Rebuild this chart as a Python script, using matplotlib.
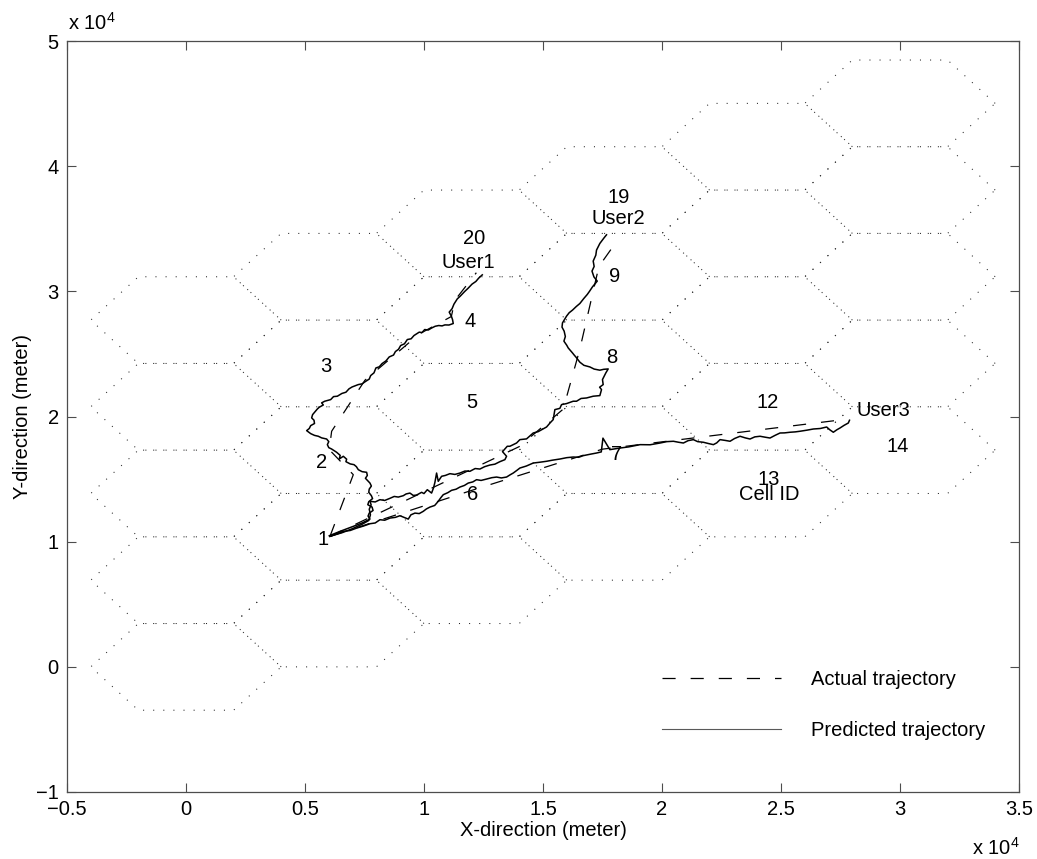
import numpy as np
import matplotlib
matplotlib.use('Agg')
from matplotlib import pyplot as plt
from matplotlib import ticker
from matplotlib.lines import Line2D

plt.rcParams['font.family'] = ['Liberation Sans', 'DejaVu Sans']
plt.rcParams['mathtext.fontset'] = 'custom'
plt.rcParams['mathtext.rm'] = 'Liberation Sans'
FS = 14.5
U = 1e4  # axis unit (x 10^4 meter)

# hexagonal cell layout
cell_radius = 4000.0
n_cols = 6
n_rows = 5

# cell id labels (x 10^4 m)
cell_ids = ['1', '2', '3', '4', '5', '6', '7', '8', '9', '12', '13', '14', '19', '20']
cell_lx = [0.576, 0.571, 0.588, 1.193, 1.200, 1.206, 1.810, 1.790, 1.800, 2.445, 2.450, 2.990, 1.820, 1.210]
cell_ly = [1.020, 1.630, 2.400, 2.760, 2.110, 1.380, 1.700, 2.470, 3.120, 2.110, 1.500, 1.760, 3.750, 3.420]

notes = ['User1', 'User2', 'User3', 'Cell ID']
note_x = [1.185, 1.815, 2.930, 2.450]
note_y = [3.230, 3.580, 2.050, 1.380]

# actual trajectories (x 10^4 m)
act1_x = [0.605, 0.703, 0.602, 0.612, 0.752, 0.980, 1.115, 1.130, 1.220]
act1_y = [1.043, 1.536, 1.736, 1.883, 2.291, 2.660, 2.800, 2.930, 3.150]
act2_x = [0.605, 1.400, 1.585, 1.655, 1.735, 1.815]
act2_y = [1.043, 1.760, 2.060, 2.540, 3.200, 3.415]
act3_x = [0.605, 1.200, 1.750, 2.783]
act3_y = [1.043, 1.410, 1.740, 1.981]

# predicted trajectories (x 10^4 m)
pred1_x = [0.602, 0.650, 0.703, 0.740, 0.773, 0.765, 0.770, 0.786, 0.782, 0.764, 0.768, 0.784, 0.779, 0.768,
           0.770, 0.779, 0.773, 0.754, 0.762, 0.759, 0.740, 0.724, 0.716, 0.706, 0.690, 0.672, 0.675, 0.661,
           0.644, 0.648, 0.633, 0.612, 0.600, 0.594, 0.600, 0.591, 0.570, 0.556, 0.540, 0.524, 0.507, 0.518,
           0.524, 0.540, 0.538, 0.528, 0.532, 0.552, 0.560, 0.577, 0.570, 0.583, 0.608, 0.620, 0.636, 0.655,
           0.672, 0.685, 0.698, 0.724, 0.740, 0.756, 0.770, 0.776, 0.790, 0.798, 0.812, 0.824, 0.840, 0.854,
           0.872, 0.880, 0.893, 0.902, 0.918, 0.930, 0.946, 0.958, 0.980, 0.992, 1.003, 1.018, 1.031, 1.047,
           1.062, 1.076, 1.088, 1.105, 1.123, 1.120, 1.115, 1.106, 1.118, 1.126, 1.140, 1.152, 1.171, 1.185,
           1.202, 1.218, 1.230, 1.245]
pred1_y = [1.048, 1.085, 1.123, 1.150, 1.181, 1.205, 1.229, 1.250, 1.277, 1.296, 1.320, 1.345, 1.368, 1.395,
           1.421, 1.445, 1.469, 1.507, 1.530, 1.555, 1.560, 1.576, 1.600, 1.616, 1.622, 1.640, 1.660, 1.683,
           1.661, 1.690, 1.715, 1.741, 1.752, 1.776, 1.800, 1.821, 1.830, 1.843, 1.850, 1.864, 1.888, 1.905,
           1.928, 1.945, 1.971, 1.990, 2.016, 2.061, 2.075, 2.093, 2.110, 2.123, 2.136, 2.160, 2.163, 2.185,
           2.195, 2.222, 2.237, 2.256, 2.262, 2.283, 2.300, 2.328, 2.350, 2.389, 2.398, 2.424, 2.445, 2.477,
           2.492, 2.520, 2.538, 2.568, 2.582, 2.616, 2.622, 2.648, 2.675, 2.672, 2.696, 2.692, 2.707, 2.722,
           2.728, 2.725, 2.733, 2.732, 2.744, 2.775, 2.803, 2.835, 2.862, 2.899, 2.941, 2.962, 3.000, 3.025,
           3.059, 3.080, 3.107, 3.133]

pred2_x = [0.605, 0.660, 0.700, 0.740, 0.768, 0.775, 0.770, 0.778, 0.773, 0.795, 0.815, 0.835, 0.857, 0.875,
           0.892, 0.913, 0.925, 0.941, 0.955, 0.969, 0.990, 1.000, 1.014, 1.032, 1.040, 1.046, 1.053, 1.060,
           1.074, 1.090, 1.109, 1.130, 1.151, 1.172, 1.193, 1.215, 1.235, 1.255, 1.277, 1.298, 1.319, 1.340,
           1.347, 1.330, 1.350, 1.361, 1.389, 1.403, 1.431, 1.459, 1.480, 1.515, 1.530, 1.543, 1.550, 1.571,
           1.578, 1.599, 1.627, 1.641, 1.660, 1.683, 1.711, 1.739, 1.746, 1.738, 1.753, 1.750, 1.764, 1.774,
           1.755, 1.739, 1.715, 1.697, 1.672, 1.655, 1.638, 1.632, 1.624, 1.606, 1.600, 1.588, 1.594, 1.589,
           1.580, 1.582, 1.599, 1.610, 1.624, 1.640, 1.655, 1.672, 1.686, 1.695, 1.708, 1.728, 1.714, 1.706,
           1.715, 1.711, 1.722, 1.725, 1.739, 1.756, 1.767]
pred2_y = [1.043, 1.075, 1.105, 1.140, 1.170, 1.215, 1.260, 1.295, 1.323, 1.318, 1.336, 1.330, 1.347, 1.362,
           1.357, 1.368, 1.382, 1.389, 1.370, 1.373, 1.395, 1.385, 1.416, 1.389, 1.430, 1.475, 1.549, 1.483,
           1.523, 1.530, 1.544, 1.538, 1.549, 1.565, 1.563, 1.585, 1.581, 1.600, 1.613, 1.620, 1.640, 1.656,
           1.683, 1.720, 1.763, 1.763, 1.789, 1.816, 1.822, 1.869, 1.880, 1.917, 1.950, 1.976, 2.056, 2.066,
           2.096, 2.104, 2.123, 2.123, 2.145, 2.149, 2.163, 2.168, 2.216, 2.235, 2.256, 2.296, 2.349, 2.381,
           2.378, 2.371, 2.380, 2.397, 2.410, 2.435, 2.477, 2.490, 2.509, 2.549, 2.570, 2.603, 2.640, 2.683,
           2.715, 2.749, 2.803, 2.830, 2.851, 2.880, 2.904, 2.945, 2.976, 3.000, 3.037, 3.083, 3.117, 3.163,
           3.200, 3.243, 3.290, 3.331, 3.384, 3.427, 3.453]

pred3_x = [0.605, 0.661, 0.690, 0.717, 0.745, 0.773, 0.795, 0.815, 0.835, 0.857, 0.880, 0.899, 0.934, 0.945,
           0.962, 0.980, 0.997, 1.010, 1.025, 1.045, 1.060, 1.070, 1.081, 1.100, 1.116, 1.135, 1.151, 1.170,
           1.186, 1.205, 1.221, 1.240, 1.263, 1.285, 1.305, 1.325, 1.347, 1.362, 1.375, 1.390, 1.403, 1.430,
           1.459, 1.485, 1.515, 1.540, 1.571, 1.600, 1.627, 1.650, 1.669, 1.700, 1.725, 1.745, 1.752, 1.781,
           1.824, 1.860, 1.908, 1.950, 1.992, 2.020, 2.048, 2.070, 2.090, 2.110, 2.132, 2.150, 2.174, 2.195,
           2.216, 2.230, 2.244, 2.265, 2.286, 2.305, 2.328, 2.350, 2.370, 2.390, 2.412, 2.435, 2.454, 2.475,
           2.496, 2.515, 2.538, 2.560, 2.580, 2.610, 2.636, 2.665, 2.692, 2.705, 2.720, 2.735, 2.748, 2.765,
           2.783, 2.788]
pred3_y = [1.043, 1.083, 1.090, 1.109, 1.125, 1.144, 1.150, 1.176, 1.172, 1.189, 1.195, 1.208, 1.181, 1.215,
           1.229, 1.225, 1.243, 1.262, 1.277, 1.290, 1.323, 1.350, 1.376, 1.392, 1.411, 1.420, 1.437, 1.450,
           1.469, 1.478, 1.496, 1.490, 1.501, 1.512, 1.517, 1.510, 1.517, 1.535, 1.549, 1.570, 1.589, 1.605,
           1.629, 1.635, 1.643, 1.652, 1.661, 1.672, 1.677, 1.675, 1.688, 1.700, 1.709, 1.718, 1.828, 1.736,
           1.749, 1.758, 1.776, 1.775, 1.789, 1.800, 1.803, 1.795, 1.789, 1.808, 1.816, 1.800, 1.795, 1.785,
           1.776, 1.790, 1.816, 1.810, 1.803, 1.825, 1.843, 1.830, 1.821, 1.838, 1.843, 1.835, 1.829, 1.850,
           1.869, 1.870, 1.875, 1.878, 1.883, 1.892, 1.901, 1.905, 1.917, 1.895, 1.875, 1.895, 1.909, 1.930,
           1.949, 1.971]

fig = plt.figure(figsize=(10.37, 8.59), dpi=100)
ax = fig.add_axes([0.0646, 0.078, 0.918, 0.874])

# hex grid, dotted
ang = np.radians(np.arange(0, 361, 60))
for c in range(n_cols):
    for k in range(n_rows):
        cx = 1.5 * cell_radius * c
        cy = np.sqrt(3) / 2 * cell_radius * c + np.sqrt(3) * cell_radius * k
        ax.plot(cx + cell_radius * np.cos(ang), cy + cell_radius * np.sin(ang),
                color='0.15', lw=0.75, linestyle=(0, (1.0, 8.7)))

dash = (0, (10.5, 12.0))
for xs, ys in [(act1_x, act1_y), (act2_x, act2_y), (act3_x, act3_y)]:
    ax.plot(np.array(xs) * U, np.array(ys) * U, color='black', lw=0.9, linestyle=dash)
for xs, ys in [(pred1_x, pred1_y), (pred2_x, pred2_y), (pred3_x, pred3_y)]:
    ax.plot(np.array(xs) * U, np.array(ys) * U, color='black', lw=1.1)

for t, x, y in zip(cell_ids, cell_lx, cell_ly):
    ax.text(x * U, y * U, t, ha='center', va='center', fontsize=FS)
for t, x, y in zip(notes, note_x, note_y):
    ax.text(x * U, y * U, t, ha='center', va='center', fontsize=FS)

ax.set_xlim(-0.5 * U, 3.5 * U)
ax.set_ylim(-1 * U, 5 * U)
ax.set_xticks(np.arange(-0.5, 3.51, 0.5) * U)
ax.set_yticks(np.arange(-1, 5.1, 1) * U)
fmt = ticker.FuncFormatter(lambda v, p: f'{v / U:g}'.replace('-', '\u2212'))
ax.xaxis.set_major_formatter(fmt)
ax.yaxis.set_major_formatter(fmt)
ax.tick_params(direction='in', length=6.5, width=0.8, color='0.3', top=True, right=True,
               labelsize=FS, pad=6)
for s in ax.spines.values():
    s.set_color('0.3')
    s.set_linewidth(0.9)

ax.set_xlabel('X-direction (meter)', fontsize=FS, labelpad=1)
ax.set_ylabel('Y-direction (meter)', fontsize=FS, labelpad=3)

fig.text(0.0656, 0.965, 'x 10$^{4}$', fontsize=FS, va='baseline')
fig.text(0.937, 0.005, 'x 10$^{4}$', fontsize=FS, va='baseline')

handles = [Line2D([], [], color='black', lw=0.9, linestyle=dash),
           Line2D([], [], color='0.35', lw=0.8)]
ax.legend(handles, ['Actual trajectory', 'Predicted trajectory'], loc='upper left',
          bbox_to_anchor=(0.625, 0.162), frameon=False, fontsize=FS, handlelength=5.9,
          handletextpad=1.5, labelspacing=1.55, borderpad=0, borderaxespad=0)

fig.savefig('out.png', dpi=100)
